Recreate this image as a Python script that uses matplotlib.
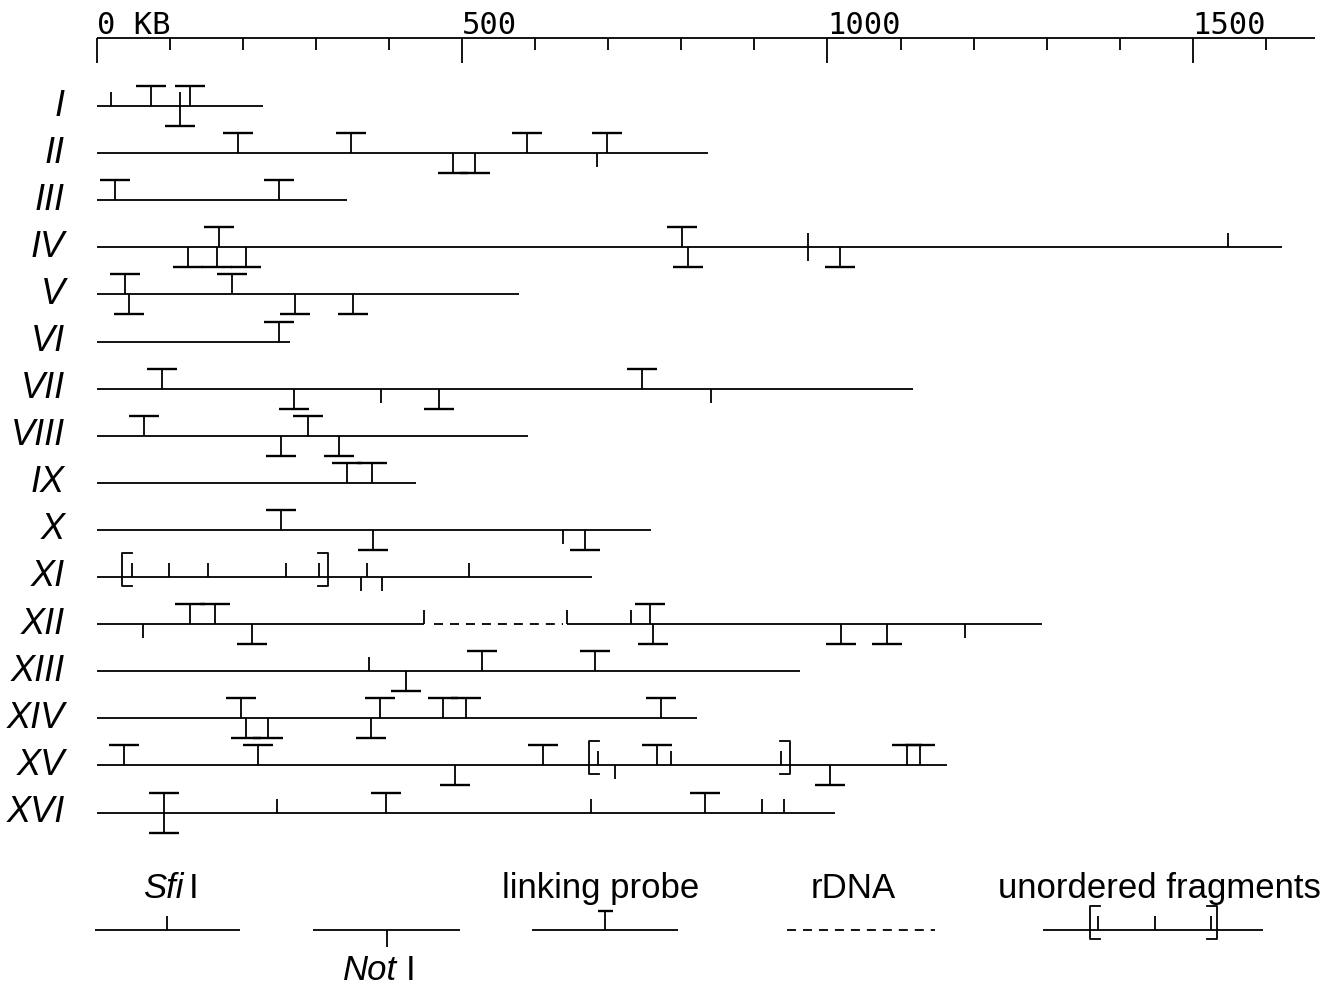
import matplotlib.pyplot as plt

plt.rcParams['lines.scale_dashes'] = False

# chromosome names and lengths (kb)
chroms = ["I", "II", "III", "IV", "V", "VI", "VII", "VIII",
          "IX", "X", "XI", "XII", "XIII", "XIV", "XV", "XVI"]
lengths = [227, 836, 342, 1622, 578, 264, 1117, 590,
           437, 758, 678, 1294, 962, 821, 1164, 1010]

# SfiI sites without probe (kb)
sfi_sites = [
    [19, 114], [], [], [973, 1548], [], [], [], [],
    [], [], [48, 99, 152, 259, 304, 370, 509], [448, 643, 731],
    [372], [], [686, 786, 936], [246, 676, 910, 940],
]
# NotI sites without probe (kb)
not_sites = [
    [], [684], [], [973], [], [], [389, 841], [],
    [], [638], [361, 390], [63, 1188],
    [], [], [709], [],
]
# SfiI sites with a linking probe
sfi_probes = [
    [74, 127], [193, 348, 589, 698], [25, 249], [167, 801], [38, 185],
    [249], [89, 746], [64, 289], [342, 376], [252], [], [127, 162, 757],
    [527, 682], [197, 387, 474, 505, 772], [37, 220, 611, 767, 1109, 1127],
    [92, 396, 832],
]
# NotI sites with a linking probe
not_probes = [
    [114], [487, 517], [], [125, 164, 204, 809, 1017], [44, 271, 350],
    [], [270, 468], [252, 331], [], [378, 668], [], [212, 761, 1018, 1081],
    [423], [204, 234, 375], [490, 1003], [92],
]
# unordered fragments (chromosome index: bracket start, end)
unordered = {10: (34, 316), 14: (673, 949)}
# rDNA repeat region
rdna = {11: (448, 643)}

axis_ticks = list(range(0, 1700, 100))
axis_labels = {0: "0 KB", 500: "500", 1000: "1000", 1500: "1500"}
axis_end = 1668

KB_PX = 0.7305   # pixels per kb
ROW_PX = 47.1    # pixels between chromosomes
W, H = 1341, 986


def X(px):
    return (px - 97) / KB_PX


def Y(py):
    return (py - 106) / ROW_PX


PY = 1 / ROW_PX
PX = 1 / KB_PX
LW = 1.3

fig = plt.figure(figsize=(W / 100, H / 100), dpi=100)
ax = fig.add_axes([0, 0, 1, 1])
ax.set_xlim(X(0), X(W))
ax.set_ylim(Y(H), Y(0))
ax.axis('off')


def draw_sites(y, xs, up, probe, n=None):
    if not xs:
        return
    d = -1 if up else 1
    if n is None:
        n = 20 if probe else 14
    ax.vlines(xs, [y] * len(xs), [y + d * n * PY] * len(xs), color='k', lw=LW)
    if probe:
        ax.hlines([y + d * n * PY] * len(xs), [x - 15 * PX for x in xs],
                  [x + 15 * PX for x in xs], color='k', lw=1.7)


def draw_bracket(y, x0, x1):
    top, bot = y - 24 * PY, y + 9 * PY
    s = 10 * PX
    ax.plot([x0 + s, x0, x0, x0 + s], [top, top, bot, bot], color='k', lw=LW)
    ax.plot([x1 - s, x1, x1, x1 - s], [top, top, bot, bot], color='k', lw=LW)


def draw_rdna(y, a, b):
    ax.plot([a + 10 * PX, b - 4 * PX], [y, y], color='k', lw=LW, dashes=(6.5, 5))


# scale bar
ay = Y(38)
ax.hlines(ay, 0, axis_end, color='k', lw=LW)
for t in axis_ticks:
    n = 25 if t % 500 == 0 else 12
    ax.vlines(t, ay, ay + n * PY, color='k', lw=LW)
for t, lab in axis_labels.items():
    ax.text(t, Y(34), lab, ha='left', va='baseline', fontsize=22,
            family='DejaVu Sans Mono')

# chromosomes
for i, name in enumerate(chroms):
    y = i
    if i in rdna:
        a, b = rdna[i]
        ax.hlines(y, 0, a, color='k', lw=LW)
        draw_rdna(y, a, b)
        ax.hlines(y, b, lengths[i], color='k', lw=LW)
    else:
        ax.hlines(y, 0, lengths[i], color='k', lw=LW)
    draw_sites(y, sfi_sites[i], True, False)
    draw_sites(y, not_sites[i], False, False)
    draw_sites(y, sfi_probes[i], True, True)
    draw_sites(y, not_probes[i], False, True)
    if i in unordered:
        draw_bracket(y, *unordered[i])
    ax.text(X(65), y, name, ha='right', va='center', fontsize=26,
            style='italic', family='Liberation Sans')

# legend
ly = Y(930)
tb = Y(898)
fs = 25
ax.hlines(ly, X(95), X(240), color='k', lw=LW)
draw_sites(ly, [X(167)], True, False)
ax.text(X(184), tb, "Sfi", ha='right', va='baseline', fontsize=fs,
        style='italic', family='Liberation Sans')
ax.text(X(189), tb, "I", ha='left', va='baseline', fontsize=fs,
        family='Liberation Sans')

ax.hlines(ly, X(313), X(460), color='k', lw=LW)
draw_sites(ly, [X(387)], False, False, n=17)
ax.text(X(397), Y(980), "Not", ha='right', va='baseline', fontsize=fs,
        style='italic', family='Liberation Sans')
ax.text(X(406), Y(980), "I", ha='left', va='baseline', fontsize=fs,
        family='Liberation Sans')

ax.hlines(ly, X(532), X(678), color='k', lw=LW)
ax.vlines(X(605), ly, ly - 19 * PY, color='k', lw=LW)
ax.hlines(ly - 19 * PY, X(598), X(613), color='k', lw=1.7)
ax.text(X(601), tb, "linking probe", ha='center', va='baseline', fontsize=fs,
        family='Liberation Sans')

ax.plot([X(787), X(935)], [ly, ly], color='k', lw=LW, dashes=(6.5, 5))
ax.text(X(853), tb, "rDNA", ha='center', va='baseline', fontsize=fs,
        family='Liberation Sans')

ax.hlines(ly, X(1043), X(1263), color='k', lw=LW)
draw_sites(ly, [X(1098), X(1155), X(1211)], True, False)
draw_bracket(ly, X(1090), X(1217))
ax.text(X(1159), tb, "unordered fragments", ha='center', va='baseline',
        fontsize=fs, family='Liberation Sans')

fig.savefig("out.png", dpi=100)
